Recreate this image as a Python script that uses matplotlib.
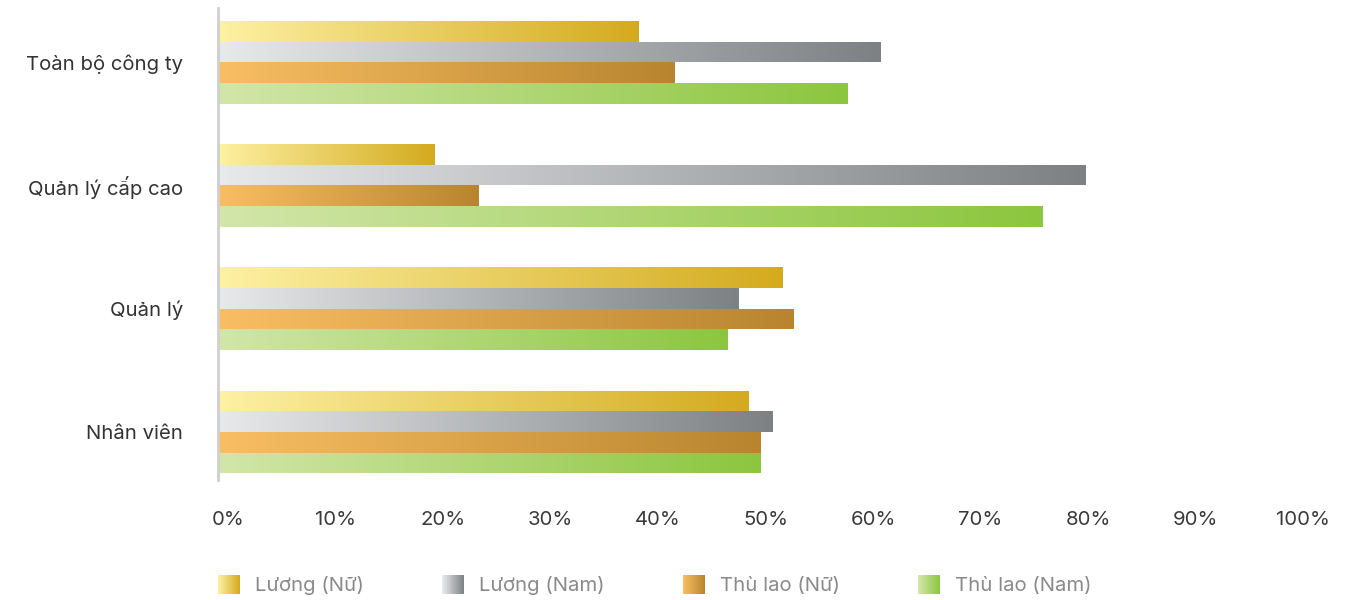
import numpy as np
import matplotlib
matplotlib.use("Agg")
import matplotlib.pyplot as plt
from matplotlib.colors import LinearSegmentedColormap
from matplotlib.legend_handler import HandlerBase
from matplotlib.patches import Rectangle
from matplotlib.transforms import ScaledTranslation

plt.rcParams['font.family'] = ['Inter', 'DejaVu Sans']

categories = ["Toàn bộ công ty", "Quản lý cấp cao", "Quản lý", "Nhân viên"]
series_names = ["Lương (Nữ)", "Lương (Nam)", "Thù lao (Nữ)", "Thù lao (Nam)"]
luong_nu = [38.8, 20.0, 52.0, 48.9]
luong_nam = [61.1, 80.0, 48.0, 51.1]
thulao_nu = [42.1, 24.0, 53.0, 50.0]
thulao_nam = [58.0, 76.0, 47.0, 50.0]
x_ticks = [0, 10, 20, 30, 40, 50, 60, 70, 80, 90, 100]
x_ticklabels = ["0%", "10%", "20%", "30%", "40%", "50%", "60%", "70%", "80%", "90%", "100%"]

series_values = [luong_nu, luong_nam, thulao_nu, thulao_nam]
gradients = [("#FDF1A3", "#D4AB1F"),
             ("#E8E9EB", "#7D8184"),
             ("#F9BE63", "#B8852E"),
             ("#D2E6A9", "#8CC63E")]
cmaps = [LinearSegmentedColormap.from_list(f"g{i}", g) for i, g in enumerate(gradients)]

fig = plt.figure(figsize=(13.71, 6.0), dpi=100)
ax = fig.add_axes([218/1371, 1-480/600, (1303-218)/1371, (480-8)/600])

bar_h = 0.168
offsets = [-1.5, -0.5, 0.5, 1.5]
y = np.arange(len(categories))
grad = np.linspace(0, 1, 256).reshape(1, -1)

for vals, off, cm in zip(series_values, offsets, cmaps):
    bars = ax.barh(y + off * bar_h, vals, height=bar_h, color='none', edgecolor='none')
    for b in bars:
        x0, y0 = b.get_x(), b.get_y()
        w, h = b.get_width(), b.get_height()
        im = ax.imshow(grad, cmap=cm, aspect='auto', extent=(x0, x0 + w, y0 + h, y0),
                       interpolation='bilinear', zorder=2)
        im.set_clip_path(b)

ax.set_xlim(0, 100)
ax.set_ylim(3.39, -0.44)
ax.set_yticks(y)
ax.set_yticklabels(categories, fontsize=14.6, color="#333333")
ax.set_xticks(x_ticks)
ax.set_xticklabels(x_ticklabels, fontsize=14.6, color="#3a3a3a")
ax.tick_params(axis='both', length=0)
ax.tick_params(axis='x', pad=22)
ax.tick_params(axis='y', pad=25)
for s in ['top', 'right', 'bottom']:
    ax.spines[s].set_visible(False)
ax.spines['left'].set_color('#CFCFCF')
ax.spines['left'].set_linewidth(2)
ax.set_aspect('auto')

# slight horizontal nudge of tick labels as in the reference layout
for v, lab in zip(x_ticks, ax.get_xticklabels()):
    dx = (10 - 0.1 * v) / 100.0
    lab.set_transform(lab.get_transform() + ScaledTranslation(dx, 0, fig.dpi_scale_trans))


class GradHandler(HandlerBase):
    def __init__(self, cmap):
        super().__init__()
        self.cmap = cmap

    def create_artists(self, legend, orig_handle, xdescent, ydescent, width, height, fontsize, trans):
        n = 30
        arts = []
        for k in range(n):
            r = Rectangle((-xdescent + width * k / n, -ydescent), width / n * 1.05, height,
                          facecolor=self.cmap(k / (n - 1)), edgecolor='none', transform=trans)
            arts.append(r)
        return arts


handles = [Rectangle((0, 0), 1, 1) for _ in series_names]
leg = fig.legend(handles, series_names, loc='center left', bbox_to_anchor=(218/1371, 1-585/600),
                 ncol=4, frameon=False, fontsize=14.6, handlelength=1.09, handleheight=1.09,
                 handletextpad=0.74, columnspacing=3.85, borderpad=0, borderaxespad=0,
                 handler_map={h: GradHandler(cm) for h, cm in zip(handles, cmaps)})
for t in leg.get_texts():
    t.set_color("#8a8a8a")

fig.savefig("out.png", dpi=100)
